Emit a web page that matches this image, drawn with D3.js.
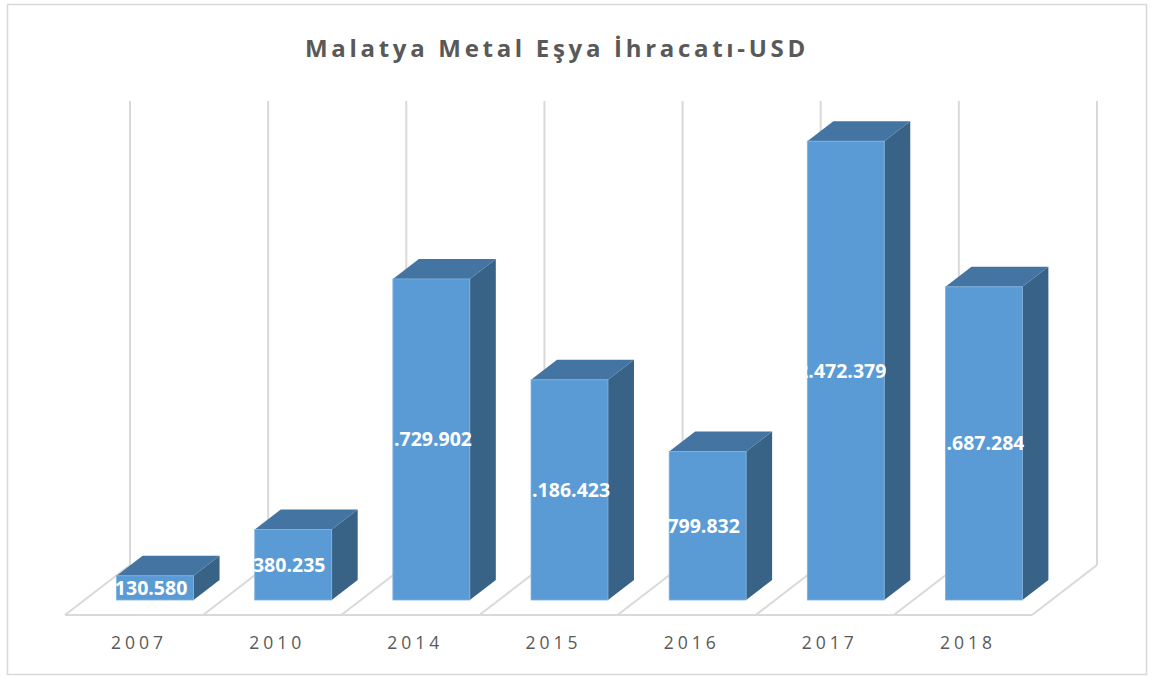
<!DOCTYPE html>
<html>
<head>
<meta charset="utf-8">
<script src="https://cdn.jsdelivr.net/npm/d3@7"></script>
<style>
  body { margin: 0; background: #fff; }
  svg { display: block; }
</style>
</head>
<body>
<div id="chart"></div>
<script>
const years = ["2007", "2010", "2014", "2015", "2016", "2017", "2018"];
const exports = [130580, 380235, 1729902, 1186423, 799832, 2472379, 1687284];
const labels = ["130.580", "380.235", "1.729.902", "1.186.423", "799.832", "2.472.379", "1.687.284"];
const title = "Malatya Metal Eşya İhracatı-USD";

const width = 1155, height = 678;

// floor geometry (front-left corner, depth vector)
const floorLeft = 65, floorRight = 1032, floorFront = 615;
const depthX = 65, depthY = -50;
const wallHeight = 464;

const svg = d3.select("#chart").append("svg")
    .attr("width", width)
    .attr("height", height);

// outer border
svg.append("rect")
    .attr("x", 7.5).attr("y", 4.5)
    .attr("width", 1139).attr("height", 670)
    .attr("fill", "#fff")
    .attr("stroke", "#d9d9d9")
    .attr("stroke-width", 1.5);

svg.append("text")
    .attr("x", 557)
    .attr("y", 57)
    .attr("text-anchor", "middle")
    .attr("font-family", "Open Sans, sans-serif")
    .attr("font-weight", "bold")
    .attr("font-size", 24)
    .attr("letter-spacing", 3.7)
    .attr("fill", "#595959")
    .text(title);

const x = d3.scaleBand().domain(years).range([floorLeft, floorRight]);
const y = d3.scaleLinear().domain([0, 2500000]).range([0, wallHeight]);
const depth = t => [depthX * t, depthY * t];

const grid = svg.append("g")
    .attr("stroke", "#d9d9d9")
    .attr("stroke-width", 2)
    .attr("fill", "none");

const bounds = years.map(d => x(d)).concat([floorRight]);

// back wall verticals
bounds.forEach(bx => {
  const [dx, dy] = depth(1);
  grid.append("line")
      .attr("x1", bx + dx).attr("x2", bx + dx)
      .attr("y1", floorFront + dy).attr("y2", floorFront + dy - wallHeight);
});

// floor diagonals
bounds.forEach(bx => {
  const [dx, dy] = depth(1);
  grid.append("line")
      .attr("x1", bx).attr("y1", floorFront)
      .attr("x2", bx + dx).attr("y2", floorFront + dy);
});

// floor front edge
grid.append("line")
    .attr("x1", floorLeft).attr("x2", floorRight)
    .attr("y1", floorFront).attr("y2", floorFront);

// bars
const barFrac = 0.557;
const d0 = 0.3, d1 = 0.7;
const bw = x.bandwidth() * barFrac;
const defs = svg.append("defs");

const bars = svg.append("g");
years.forEach((yr, i) => {
  const [fx, fy] = depth(d0);
  const [bx, by] = depth(d1);
  const left = x(yr) + (x.bandwidth() - bw) / 2 + fx + 1.5;
  const right = left + bw;
  const base = floorFront + fy;
  const h = y(exports[i]);
  const top = base - h;
  const ox = bx - fx, oy = by - fy;

  const g = bars.append("g");
  // side
  g.append("path")
      .attr("d", `M${right},${base}L${right},${top}L${right + ox},${top + oy}L${right + ox},${base + oy}Z`)
      .attr("fill", "#386387");
  // top
  g.append("path")
      .attr("d", `M${left},${top}L${left + ox},${top + oy}L${right + ox},${top + oy}L${right},${top}Z`)
      .attr("fill", "#4474a1");
  // front
  g.append("rect")
      .attr("x", left).attr("y", top)
      .attr("width", bw).attr("height", h)
      .attr("fill", "#5b9bd5")
      .attr("stroke", "#7eb1e0")
      .attr("stroke-width", 0.8);

  defs.append("clipPath").attr("id", "clip" + i)
    .append("rect")
      .attr("x", left - 3).attr("y", top)
      .attr("width", bw + 5).attr("height", h);

  g.append("text")
      .attr("clip-path", `url(#clip${i})`)
      .attr("x", left + bw / 2 - 4)
      .attr("y", top + h / 2)
      .attr("dy", "0.36em")
      .attr("text-anchor", "middle")
      .attr("font-family", "Open Sans, sans-serif")
      .attr("font-weight", "bold")
      .attr("font-size", 19.5)
      .attr("fill", "#fff")
      .text(labels[i]);
});

// category axis labels
svg.append("g")
  .selectAll("text")
  .data(years)
  .join("text")
    .attr("x", d => x(d) + x.bandwidth() / 2 + 5)
    .attr("y", 649)
    .attr("text-anchor", "middle")
    .attr("font-family", "Open Sans, sans-serif")
    .attr("font-size", 17.5)
    .attr("letter-spacing", 4)
    .attr("fill", "#595959")
    .text(d => d);
</script>
</body>
</html>
